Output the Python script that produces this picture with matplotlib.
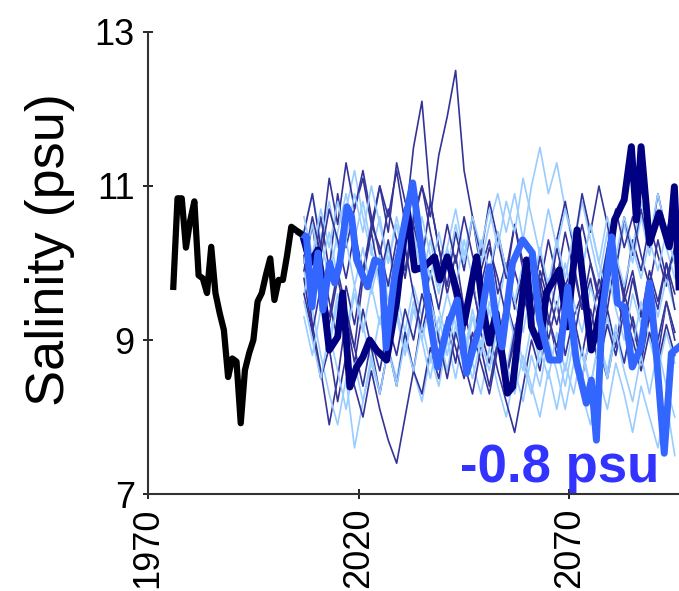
import matplotlib
matplotlib.use("Agg")
import matplotlib.pyplot as plt

plt.rcParams["font.family"] = ["Liberation Sans", "DejaVu Sans"]

# observed record
obs_years = list(range(1976, 2007))
obs_salinity = [9.69, 10.84, 10.84, 10.2, 10.55, 10.80, 9.84, 9.80, 9.61, 10.21,
                9.61, 9.35, 9.13, 8.52, 8.76, 8.72, 7.92, 8.61, 8.83, 9.0,
                9.50, 9.61, 9.85, 10.06, 9.52, 9.78, 9.78, 10.1, 10.47, 10.43,
                10.39]

# ensemble members (biennial)
ens_years = list(range(2007, 2096, 2))
dark_runs = [
    [10.3, 9.8, 10.6, 9.9, 10.9, 10.2, 10.7, 11.1, 10.5, 11.0,
     10.4, 11.3, 10.8, 10.5, 11.0, 10.6, 11.4, 11.9, 12.5, 11.2,
     10.6, 9.9, 10.3, 9.6, 10.0, 9.4, 9.9, 9.2, 9.7, 9.0,
     9.5, 8.8, 9.3, 9.6, 9.1, 9.8, 9.4, 10.1, 9.6, 10.3,
     9.9, 10.5, 10.1, 9.7, 10.2],
    [10.1, 9.2, 8.6, 7.9, 8.5, 9.3, 8.9, 9.8, 10.4, 11.0,
     10.6, 11.2, 10.5, 11.5, 12.1, 10.8, 10.2, 9.6, 10.1, 9.4,
     9.8, 9.1, 8.7, 9.3, 8.5, 9.0, 9.6, 9.2, 9.9, 9.5,
     10.2, 9.7, 10.0, 9.4, 9.8, 9.2, 9.7, 10.1, 9.5, 9.9,
     9.3, 9.8, 9.4, 10.0, 9.6],
    [9.8, 9.1, 8.5, 8.9, 8.2, 8.8, 8.4, 8.0, 8.6, 8.1,
     7.7, 7.4, 8.0, 8.6, 8.3, 8.9, 8.5, 9.2, 8.7, 9.4,
     8.9, 9.6, 9.1, 8.6, 8.2, 7.8, 8.4, 9.0, 8.6, 9.3,
     8.8, 9.5, 9.0, 8.5, 9.1, 8.7, 9.4, 8.9, 9.6, 9.2,
     8.7, 9.3, 8.8, 9.5, 9.0],
    [10.4, 10.9, 10.2, 11.1, 10.5, 11.3, 10.7, 11.2, 10.6, 10.1,
     10.7, 10.3, 9.8, 10.5, 10.0, 10.8, 10.2, 9.7, 10.4, 9.9,
     10.6, 10.1, 10.8, 10.3, 9.8, 10.5, 9.9, 9.4, 10.1, 9.6,
     10.3, 10.8, 10.2, 10.9, 10.4, 11.0, 10.5, 9.9, 10.6, 10.1,
     10.7, 10.2, 10.9, 10.4, 10.8],
    [9.9, 10.5, 9.7, 9.2, 9.8, 9.3, 8.7, 9.4, 8.9, 8.3,
     8.9, 8.4, 9.1, 8.6, 9.3, 9.9, 9.4, 10.0, 9.5, 9.1,
     9.7, 9.2, 9.8, 10.4, 9.9, 10.5, 10.0, 9.5, 10.1, 9.6,
     9.2, 9.7, 9.3, 8.8, 9.4, 8.9, 8.5, 9.1, 8.7, 9.3,
     8.8, 9.4, 9.0, 9.5, 9.1],
    [10.2, 9.6, 10.1, 9.5, 9.0, 9.7, 9.2, 9.9, 10.4, 9.8,
     10.3, 9.7, 10.2, 9.6, 9.1, 9.6, 9.0, 8.5, 9.1, 8.7,
     8.3, 8.9, 8.4, 9.0, 9.5, 9.1, 9.7, 10.2, 9.7, 10.3,
     9.8, 10.4, 9.9, 9.4, 10.0, 9.5, 10.1, 9.6, 9.2, 9.8,
     9.3, 9.9, 9.5, 10.0, 9.4],
    [10.0, 10.6, 10.1, 10.7, 10.3, 9.8, 10.4, 9.9, 10.5, 10.2,
     9.7, 10.3, 9.9, 10.6, 11.0, 10.4, 9.9, 10.5, 10.0, 10.6,
     10.1, 9.7, 10.2, 9.8, 9.3, 9.9, 9.5, 10.1, 9.6, 9.2,
     9.8, 9.4, 10.0, 10.5, 10.0, 9.6, 10.2, 10.7, 10.2, 10.6,
     10.1, 9.7, 10.3, 9.8, 10.2],
    [9.6, 9.1, 9.7, 9.3, 9.9, 9.4, 8.9, 8.4, 9.0, 8.6,
     9.2, 8.8, 9.4, 9.0, 9.6, 9.2, 8.8, 9.3, 8.9, 8.5,
     9.1, 8.7, 8.3, 8.9, 8.5, 9.1, 9.6, 9.2, 9.8, 9.3,
     8.9, 9.5, 9.0, 9.6, 9.1, 8.7, 9.2, 8.8, 9.4, 9.0,
     8.6, 9.1, 8.7, 9.2, 8.8],
]
light_runs = [
    [10.4, 10.9, 10.3, 10.8, 10.2, 10.7, 11.2, 10.6, 10.1, 10.6,
     10.0, 10.5, 9.9, 10.4, 9.8, 10.3, 9.7, 10.2, 10.7, 10.1,
     10.6, 10.0, 10.5, 10.9, 10.4, 10.9, 10.3, 11.0, 11.5, 10.9,
     11.3, 10.7, 10.2, 10.8, 10.3, 9.8, 10.4, 9.9, 10.5, 10.0,
     10.6, 10.1, 10.7, 10.2, 9.8],
    [9.9, 9.4, 8.8, 8.3, 7.9, 8.5, 7.6, 8.2, 8.7, 8.3,
     8.9, 8.5, 9.1, 8.6, 8.2, 8.8, 8.4, 9.0, 8.5, 9.1,
     8.7, 8.3, 8.9, 8.4, 8.0, 8.6, 8.2, 8.8, 8.4, 9.0,
     8.6, 8.1, 8.7, 8.3, 7.9, 8.5, 8.1, 8.7, 8.3, 7.8,
     8.4, 8.0, 7.6, 8.2, 7.5],
    [10.2, 9.7, 10.3, 9.8, 10.4, 10.9, 10.3, 10.8, 10.2, 9.7,
     10.2, 9.6, 9.1, 9.7, 9.3, 9.9, 9.4, 9.0, 9.6, 9.1,
     9.7, 9.3, 9.8, 9.4, 10.0, 9.5, 9.1, 9.7, 9.2, 9.8,
     9.4, 10.0, 9.5, 9.1, 9.7, 9.3, 9.9, 9.4, 9.0, 9.6,
     9.2, 9.7, 9.3, 9.8, 9.4],
    [9.6, 10.1, 9.5, 9.0, 9.6, 9.1, 9.7, 9.2, 8.7, 9.3,
     8.8, 9.4, 8.9, 9.5, 9.0, 8.5, 9.1, 8.6, 9.2, 8.8,
     9.4, 8.9, 9.5, 9.1, 8.6, 9.2, 8.7, 8.3, 8.9, 8.5,
     9.1, 8.6, 9.2, 8.8, 8.4, 9.0, 8.6, 9.2, 8.7, 9.3,
     8.9, 9.4, 9.0, 9.5, 9.1],
    [10.6, 10.1, 10.7, 10.2, 10.8, 10.3, 10.9, 10.4, 11.0, 10.5,
     10.0, 10.6, 10.1, 10.7, 10.3, 9.8, 10.4, 9.9, 10.5, 10.0,
     10.6, 10.2, 10.7, 10.2, 10.8, 10.4, 11.1, 10.6, 10.1, 10.7,
     10.2, 10.7, 10.3, 9.9, 10.5, 10.0, 10.6, 10.1, 10.6, 10.2,
     10.8, 10.3, 10.9, 10.4, 10.0],
    [9.3, 8.8, 9.4, 8.9, 9.5, 9.0, 9.6, 9.1, 9.7, 9.2,
     9.8, 9.3, 8.8, 9.4, 9.0, 9.5, 9.1, 9.6, 9.2, 8.7,
     9.3, 8.8, 9.4, 8.9, 9.5, 9.0, 8.6, 9.2, 8.7, 9.3,
     8.9, 8.4, 9.0, 8.5, 9.1, 8.7, 9.3, 8.8, 9.4, 8.9,
     9.5, 9.0, 8.6, 9.1, 8.7],
    [10.0, 10.5, 9.9, 10.4, 9.8, 10.3, 9.7, 10.2, 9.6, 10.1,
     9.5, 10.0, 10.5, 10.0, 10.6, 10.1, 9.6, 10.2, 9.7, 10.3,
     9.8, 10.3, 9.9, 10.4, 9.9, 9.5, 10.0, 9.6, 10.2, 9.7,
     10.3, 9.8, 10.4, 9.9, 10.5, 10.0, 9.6, 10.1, 9.7, 10.2,
     9.8, 10.3, 9.9, 10.4, 10.0],
    [9.5, 9.0, 8.5, 9.1, 8.6, 8.1, 8.7, 8.2, 8.8, 8.3,
     8.9, 8.4, 9.0, 8.6, 9.2, 8.7, 9.3, 8.8, 9.4, 8.9,
     8.5, 9.0, 8.6, 9.2, 8.7, 8.3, 8.8, 8.4, 8.0, 8.6,
     8.1, 8.7, 8.3, 8.9, 8.4, 9.0, 8.5, 9.1, 8.6, 8.2,
     8.8, 8.3, 8.9, 8.4, 8.0],
]

# highlighted members
navy_years = [2007, 2008.5, 2010.3, 2013, 2015, 2016.2, 2017.9, 2019.5, 2021, 2022.6,
              2024.2, 2026.6, 2029, 2031.5, 2033.3, 2035.5, 2038, 2039.2, 2041, 2043.2,
              2045, 2048, 2049.4, 2051, 2052.6, 2055.3, 2056.5, 2059.8, 2061, 2063,
              2064.5, 2067.6, 2069.5, 2071.8, 2075.2, 2076.4, 2078.8, 2080.7, 2083, 2084.7,
              2085.9, 2087, 2089, 2091.3, 2093.7, 2094.9, 2096]
navy_vals = [10.3, 10.0, 10.17, 8.87, 9.04, 9.61, 8.39, 8.65, 8.78, 9.0,
             8.87, 8.74, 9.5, 10.7, 9.91, 9.95, 10.08, 9.78, 10.08, 9.65,
             9.22, 10.08, 9.43, 8.96, 9.35, 8.31, 8.39, 10.04, 9.17, 8.91,
             9.61, 9.91, 9.17, 10.43, 8.87, 9.13, 9.82, 10.56, 10.82, 11.51,
             10.56, 11.51, 10.26, 10.65, 10.21, 10.99, 9.69]
royal_years = [2006, 2007.6, 2008.9, 2010.3, 2011.5, 2013.1, 2014.3, 2015.5, 2017.2, 2018.3,
               2019.5, 2020.7, 2022.1, 2023.8, 2025.4, 2026.5, 2028.5, 2030.9, 2032.8, 2034.9,
               2036.8, 2038.7, 2041, 2043.4, 2045.6, 2047.5, 2048.7, 2051, 2052.6, 2054,
               2056.5, 2058.9, 2061.2, 2062.9, 2065.3, 2067.6, 2069.6, 2071.6, 2074, 2075.2,
               2076.4, 2077.8, 2080, 2081.4, 2083, 2084.9, 2087, 2089, 2090.6, 2092.5,
               2094.2, 2096]
royal_vals = [10.39, 10.34, 9.43, 10.13, 9.39, 10.0, 9.74, 10.0, 10.73, 10.6,
              10.04, 9.87, 9.69, 10.04, 10.0, 8.9, 9.82, 10.52, 11.04, 10.17,
              9.30, 8.65, 9.17, 9.52, 8.57, 8.96, 9.17, 9.95, 9.26, 8.91,
              10.0, 10.3, 10.13, 9.26, 8.74, 8.74, 9.69, 8.74, 8.18, 8.48,
              7.70, 9.35, 10.34, 9.48, 9.43, 8.65, 8.91, 9.74, 8.83, 7.53,
              8.83, 8.91]

fig = plt.figure(figsize=(6.79, 5.91), dpi=100)
ax = fig.add_axes([0.218, 0.164, 0.782, 0.782])

for d, l in zip(dark_runs, light_runs):
    ax.plot(ens_years, d, color="#333399", lw=1.2)
    ax.plot(ens_years, l, color="#99ccff", lw=1.2)

ax.plot(navy_years, navy_vals, color="#000080", lw=5, solid_joinstyle="round")
ax.plot(royal_years, royal_vals, color="#3366ff", lw=5, solid_joinstyle="round")
ax.plot(obs_years, obs_salinity, color="black", lw=4.5, solid_joinstyle="round")

ax.text(2044, 7.16, "-0.8 psu", color="#3333ff", fontsize=38, fontweight="bold")

ax.set_xlim(1970, 2096)
ax.set_ylim(7, 13)
ax.set_xticks([1970, 2020, 2070])
ax.set_yticks([7, 9, 11, 13])
ax.tick_params(axis="x", labelsize=26, labelrotation=90, direction="inout", length=7, width=1.2, pad=6)
ax.tick_params(axis="y", labelsize=26, direction="inout", length=7, width=1.2, pad=6)
ax.spines["top"].set_visible(False)
ax.spines["right"].set_visible(False)
ax.spines["left"].set_color("#333333")
ax.spines["bottom"].set_color("#333333")
ax.spines["left"].set_linewidth(1.5)
ax.spines["bottom"].set_linewidth(1.5)
ax.set_ylabel("Salinity (psu)", fontsize=39, labelpad=14)
ax.yaxis.label.set_y(0.528)

fig.savefig("out.png", dpi=100)
